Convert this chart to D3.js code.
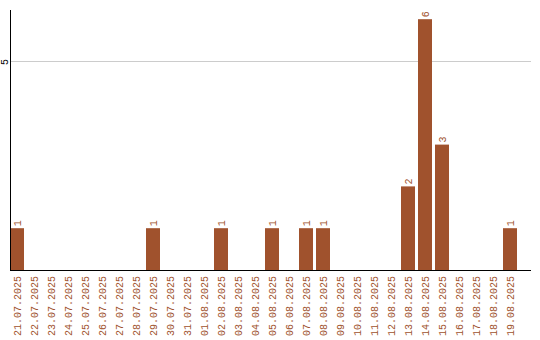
<!DOCTYPE html>
<html><head><meta charset="utf-8">
<script src="https://cdn.jsdelivr.net/npm/d3@7"></script>
<style>
html,body{margin:0;padding:0;background:#fff;}
svg text{font-family:"Liberation Mono",monospace;-webkit-font-smoothing:none;}
</style></head>
<body><svg id="c" width="540" height="340"></svg>
<script>
const dates = ["21.07.2025","22.07.2025","23.07.2025","24.07.2025","25.07.2025","26.07.2025","27.07.2025","28.07.2025","29.07.2025","30.07.2025","31.07.2025","01.08.2025","02.08.2025","03.08.2025","04.08.2025","05.08.2025","06.08.2025","07.08.2025","08.08.2025","09.08.2025","10.08.2025","11.08.2025","12.08.2025","13.08.2025","14.08.2025","15.08.2025","16.08.2025","17.08.2025","18.08.2025","19.08.2025"];
const counts = [1,0,0,0,0,0,0,0,1,0,0,0,1,0,0,1,0,1,1,0,0,0,0,2,6,3,0,0,0,1];
const yTicks = [5];
const yMax = 6.22;

const color = "#A0522D";
const svg = d3.select("#c");
const mLeft = 10, mBase = 270, mTop = 10, axisEnd = 531;
const pInner = 3/17;
const x = d3.scaleBand().domain(dates).range([mLeft, mLeft + 17*(dates.length - pInner)]).paddingInner(pInner).paddingOuter(0);
const y = d3.scaleLinear().domain([0, yMax]).range([mBase, mTop]);

// gridlines
svg.selectAll("line.grid").data(yTicks).enter().append("line")
  .attr("x1", mLeft).attr("x2", axisEnd)
  .attr("y1", d => Math.round(y(d)) + 0.5).attr("y2", d => Math.round(y(d)) + 0.5)
  .attr("stroke", "#cccccc").attr("stroke-width", 1);

// bars
const data = dates.map((d, i) => ({d, v: counts[i]}));
svg.selectAll("rect.bar").data(data.filter(e => e.v > 0)).enter().append("rect")
  .attr("x", e => x(e.d)).attr("width", x.bandwidth())
  .attr("y", e => y(e.v)).attr("height", e => mBase - y(e.v))
  .attr("fill", color);

// value labels
svg.selectAll("text.val").data(data.filter(e => e.v > 0)).enter().append("text")
  .attr("transform", e => `translate(${x(e.d) + x.bandwidth()/2 + 3.5},${y(e.v) - 2}) rotate(-90)`)
  .attr("fill", color).attr("font-size", "10px")
  .text(e => e.v);

// x labels
svg.selectAll("text.xl").data(dates).enter().append("text")
  .attr("transform", d => `translate(${x(d) + x.bandwidth()/2 + 3.5},276) rotate(-90)`)
  .attr("text-anchor", "end").attr("fill", color).attr("font-size", "10px")
  .text(d => d);

// y tick labels
svg.selectAll("text.yl").data(yTicks).enter().append("text")
  .attr("transform", d => `translate(7.5,${y(d) + 1}) rotate(-90)`)
  .attr("text-anchor", "middle").attr("fill", "#000").attr("font-size", "10px")
  .text(d => d);

// axes lines
svg.append("line").attr("x1", mLeft + 0.5).attr("x2", mLeft + 0.5).attr("y1", mTop).attr("y2", mBase + 1)
  .attr("stroke", "#000").attr("stroke-width", 1);
svg.append("line").attr("x1", mLeft).attr("x2", axisEnd).attr("y1", mBase + 0.5).attr("y2", mBase + 0.5)
  .attr("stroke", "#000").attr("stroke-width", 1);
</script></body></html>
